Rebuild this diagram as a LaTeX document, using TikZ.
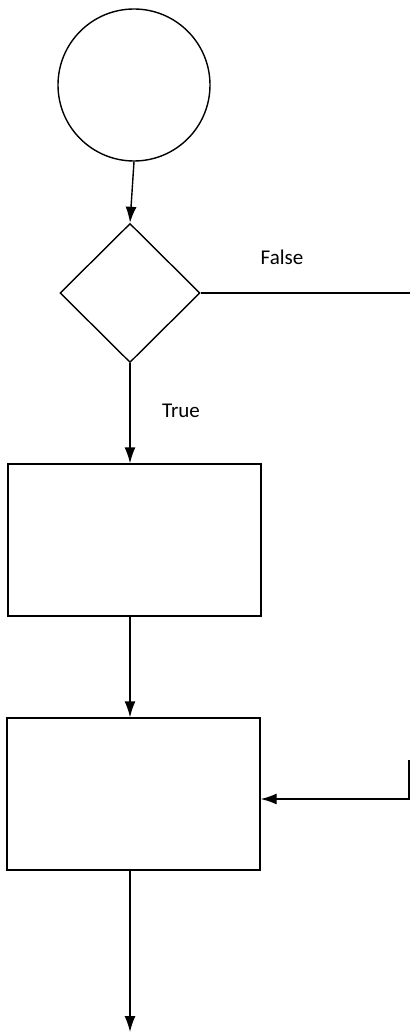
\documentclass[tikz,border=0pt]{standalone}
\usepackage{fontspec}
\setmainfont{Carlito}
\usetikzlibrary{shapes.geometric,arrows.meta}
\begin{document}
\begin{tikzpicture}[x=1pt,y=-1pt,line width=1.4pt,
    flow/.style={-{Latex[length=16pt,width=11pt]}},
    block/.style={draw,rectangle,minimum width=253pt,minimum height=152pt,inner sep=0pt},
    lbl/.style={font=\fontsize{21}{24}\selectfont}]
  \useasboundingbox (0,0) rectangle (410,1035);
  \node[draw,circle,minimum size=152pt,inner sep=0pt] (start) at (134,85) {};
  \node[draw,diamond,minimum width=140pt,minimum height=139pt,inner sep=0pt] (dec) at (130,293) {};
  \node[block] (proc1) at (134.5,540) {};
  \node[block] (proc2) at (133.5,794) {};

  \node[lbl] (false) at (282,257) {False};
  \node[lbl] (true) at (181,411) {True};

  \coordinate (fend) at (410,293);
  \coordinate (rtop) at (409,760);
  \coordinate (stop) at (130,1032);

  \draw[flow] (start.south) -- (dec.north);
  \draw (dec.east) -- (fend);
  \draw[flow] (dec.south) -- (dec.south |- proc1.north);
  \draw[flow] (dec.south |- proc1.south) -- (dec.south |- proc2.north);
  \draw[flow] (rtop) |- ([yshift=-5pt]proc2.east);
  \draw[flow] (dec.south |- proc2.south) -- (stop);
\end{tikzpicture}
\end{document}
